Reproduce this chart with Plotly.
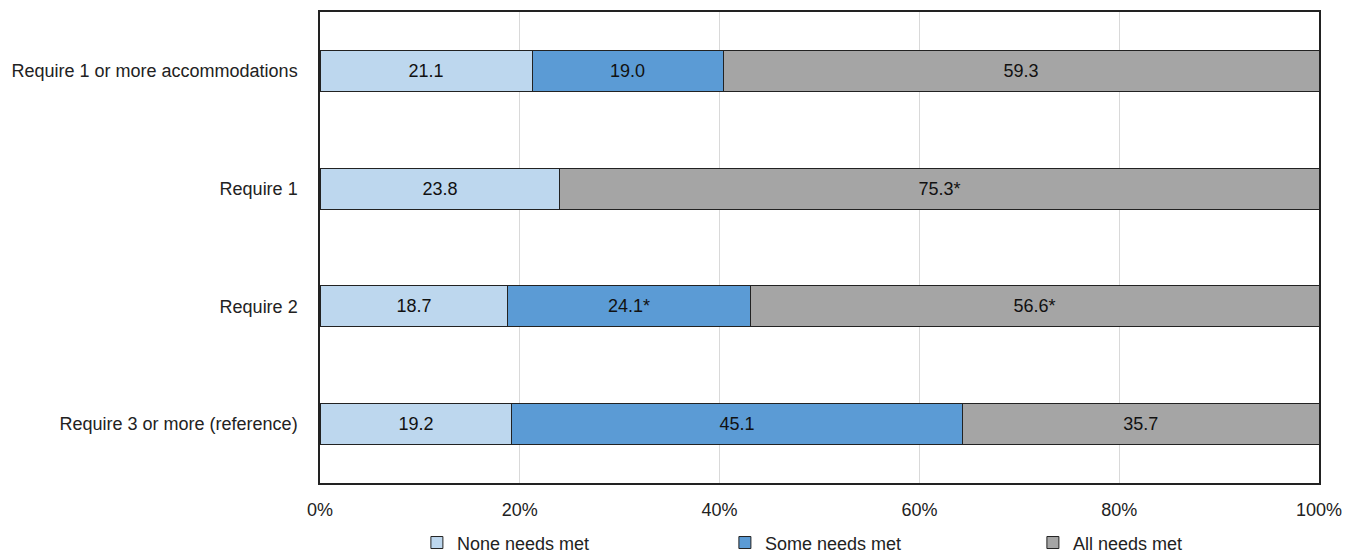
import plotly.graph_objects as go

categories = [
    "Require 1 or more accommodations",
    "Require 1",
    "Require 2",
    "Require 3 or more (reference)",
]
none_met = [21.1, 23.8, 18.7, 19.2]
some_met = [19.0, None, 24.1, 45.1]
all_met = [59.3, 75.3, 56.6, 35.7]
# significance markers for each value
none_flag = ["", "", "", ""]
some_flag = ["", "", "*", ""]
all_flag = ["", "*", "*", ""]

series = [
    ("None needs met", none_met, none_flag, "#BDD7EE"),
    ("Some needs met", some_met, some_flag, "#5B9BD5"),
    ("All needs met", all_met, all_flag, "#A5A5A5"),
]

label_font = "Liberation Sans, Arial, sans-serif"
value_font = "Liberation Sans, Arial, sans-serif"

fig = go.Figure()
for name, vals, flags, color in series:
    texts = [
        "" if v is None else f"{v:.1f}{f}" for v, f in zip(vals, flags)
    ]
    fig.add_trace(go.Bar(
        y=categories,
        x=vals,
        name=name,
        orientation="h",
        marker=dict(color=color, line=dict(color="#222222", width=1)),
        text=texts,
        textposition="inside",
        insidetextanchor="middle",
        textangle=0,
        textfont=dict(family=value_font, size=18, color="#111111"),
        cliponaxis=False,
    ))

fig.update_layout(
    barmode="stack",
    barnorm="percent",
    bargap=0.65,
    width=1357,
    height=554,
    margin=dict(l=320, r=38, t=12, b=71, autoexpand=False),
    paper_bgcolor="white",
    plot_bgcolor="white",
    font=dict(family=label_font, size=18, color="#222222"),
    uniformtext=dict(minsize=18, mode="show"),
    legend=dict(
        orientation="h",
        x=0.097,
        xanchor="left",
        y=-0.127,
        yanchor="middle",
        entrywidth=263,
        entrywidthmode="pixels",
        font=dict(family=label_font, size=18, color="#222222"),
        traceorder="normal",
    ),
    showlegend=True,
)

fig.update_xaxes(
    range=[0, 100],
    dtick=20,
    ticksuffix="%",
    showgrid=True,
    gridcolor="#D9D9D9",
    gridwidth=1,
    zeroline=False,
    showline=True,
    linecolor="#222222",
    linewidth=1.5,
    mirror=True,
    ticks="outside",
    ticklen=10,
    tickcolor="white",
    tickfont=dict(family=label_font, size=18, color="#222222"),
)
fig.update_yaxes(
    categoryorder="array",
    categoryarray=categories[::-1],
    showgrid=False,
    showline=True,
    linecolor="#222222",
    linewidth=1.5,
    mirror=True,
    ticks="outside",
    ticklen=17,
    tickcolor="white",
    tickfont=dict(family=label_font, size=18, color="#222222"),
)

fig.write_html("out.html")
